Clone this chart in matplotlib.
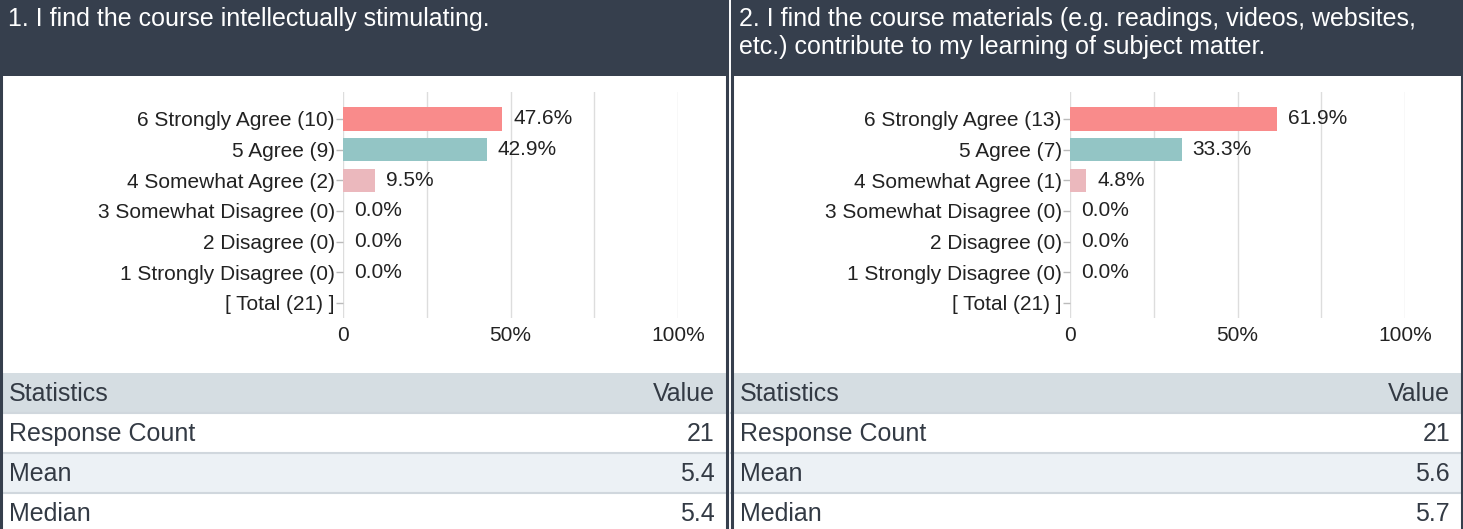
import matplotlib
matplotlib.use("Agg")
import matplotlib.pyplot as plt
from matplotlib.patches import Rectangle
from matplotlib.lines import Line2D

plt.rcParams['font.family'] = ['Liberation Sans', 'DejaVu Sans']

W, H = 1463, 529

categories = ["6 Strongly Agree", "5 Agree", "4 Somewhat Agree", "3 Somewhat Disagree",
              "2 Disagree", "1 Strongly Disagree"]
counts_q1 = [10, 9, 2, 0, 0, 0]
pcts_q1 = [47.6, 42.9, 9.5, 0.0, 0.0, 0.0]
counts_q2 = [13, 7, 1, 0, 0, 0]
pcts_q2 = [61.9, 33.3, 4.8, 0.0, 0.0, 0.0]
total_q1 = 21
total_q2 = 21
titles = ["1. I find the course intellectually stimulating.",
          "2. I find the course materials (e.g. readings, videos, websites,\netc.) contribute to my learning of subject matter."]
stat_names = ["Response Count", "Mean", "Median"]
stats_q1 = ["21", "5.4", "5.4"]
stats_q2 = ["21", "5.6", "5.7"]
xtick_vals = [0, 50, 100]
xtick_labels = ["0", "50%", "100%"]

bar_colors = ["#f98b8b", "#93c5c5", "#ebb8bd", "#cccccc", "#cccccc", "#cccccc"]
DARK = "#363f4d"
FS = 15.0      # chart text
FS_T = 18.0    # header / table text

fig = plt.figure(figsize=(W / 100, H / 100), dpi=100)
fig.patch.set_facecolor("white")


def fx(px):
    return px / W


def fy(py):
    return 1 - py / H


def rect(x0, y0, x1, y1, color, z=0):
    fig.patches.append(Rectangle((fx(x0), fy(y1)), fx(x1) - fx(x0), fy(y0) - fy(y1),
                                 transform=fig.transFigure, facecolor=color,
                                 edgecolor="none", zorder=z))


def hline(x0, x1, y, color, lw=1.0, z=2):
    fig.add_artist(Line2D([fx(x0), fx(x1)], [fy(y), fy(y)], transform=fig.transFigure,
                          color=color, lw=lw, zorder=z))


def vline(x, y0, y1, color, lw=1.0, z=3):
    fig.add_artist(Line2D([fx(x), fx(x)], [fy(y0), fy(y1)], transform=fig.transFigure,
                          color=color, lw=lw, zorder=z))


def panel(x0, x1, ax0, ax1, title, counts, pcts, total, stats):
    # header
    rect(x0, 0, x1, 76, DARK, 1)
    fig.text(fx(x0 + 8), fy(7), title, color="white", fontsize=FS_T, va="top", ha="left",
             linespacing=1.22, zorder=5)
    # stats table
    rect(x0, 373, x1, 413, "#d5dde2", 1)
    rect(x0, 453, x1, 493, "#ecf1f5", 1)
    hline(x0, x1, 413, "#d0d7dd", 1.5)
    hline(x0, x1, 453, "#d0d7dd", 1.5)
    hline(x0, x1, 493, "#d0d7dd", 1.5)
    tc = "#333a44"
    fig.text(fx(x0 + 9), fy(394), "Statistics", color=tc, fontsize=FS_T, va="center", ha="left")
    fig.text(fx(x1 - 13), fy(394), "Value", color=tc, fontsize=FS_T, va="center", ha="right")
    for i, (name, val) in enumerate(zip(stat_names, stats)):
        yc = 434 + 40 * i
        fig.text(fx(x0 + 9), fy(yc), name, color=tc, fontsize=FS_T, va="center", ha="left")
        fig.text(fx(x1 - 13), fy(yc), val, color=tc, fontsize=FS_T, va="center", ha="right")
    # borders
    vline(x0 + 1, 0, H, DARK, 2.2)
    vline(x1 - 1, 0, H, DARK, 2.2)

    # chart
    ax = fig.add_axes([fx(ax0), fy(318), fx(ax1) - fx(ax0), fy(92) - fy(318)])
    ax.set_facecolor("none")
    labels = [f"{c} ({n})" for c, n in zip(categories, counts)] + [f"[ Total ({total}) ]"]
    ypos = list(range(len(labels)))
    ax.barh(ypos[:len(pcts)], pcts, height=0.76, color=bar_colors, zorder=2)
    for y, p in zip(ypos, pcts):
        ax.annotate(f"{p:.1f}%", (p, y), xytext=(8, 0), textcoords="offset points",
                    va="center", ha="left", fontsize=FS, color="#222222", zorder=3)
    ax.set_xlim(0, 100)
    ax.set_ylim(6.49, -0.88)
    ax.set_yticks(ypos)
    ax.set_yticklabels(labels, fontsize=FS, color="#222222")
    ax.set_xticks(xtick_vals)
    ax.set_xticklabels(xtick_labels, fontsize=FS, color="#222222")
    ax.set_xticks([25, 75], minor=True)
    ax.grid(True, axis="x", which="both", color="#dddddd", lw=1.0, zorder=0)
    for s in ax.spines.values():
        s.set_visible(False)
    ax.tick_params(axis="y", length=5, width=1, color="#bbbbbb", pad=1)
    ax.tick_params(axis="x", which="both", length=0, pad=6)


panel(0, 728, 343, 678, titles[0], counts_q1, pcts_q1, total_q1, stats_q1)
panel(731, 1463, 1070, 1405, titles[1], counts_q2, pcts_q2, total_q2, stats_q2)

fig.savefig("out.png", dpi=100)
